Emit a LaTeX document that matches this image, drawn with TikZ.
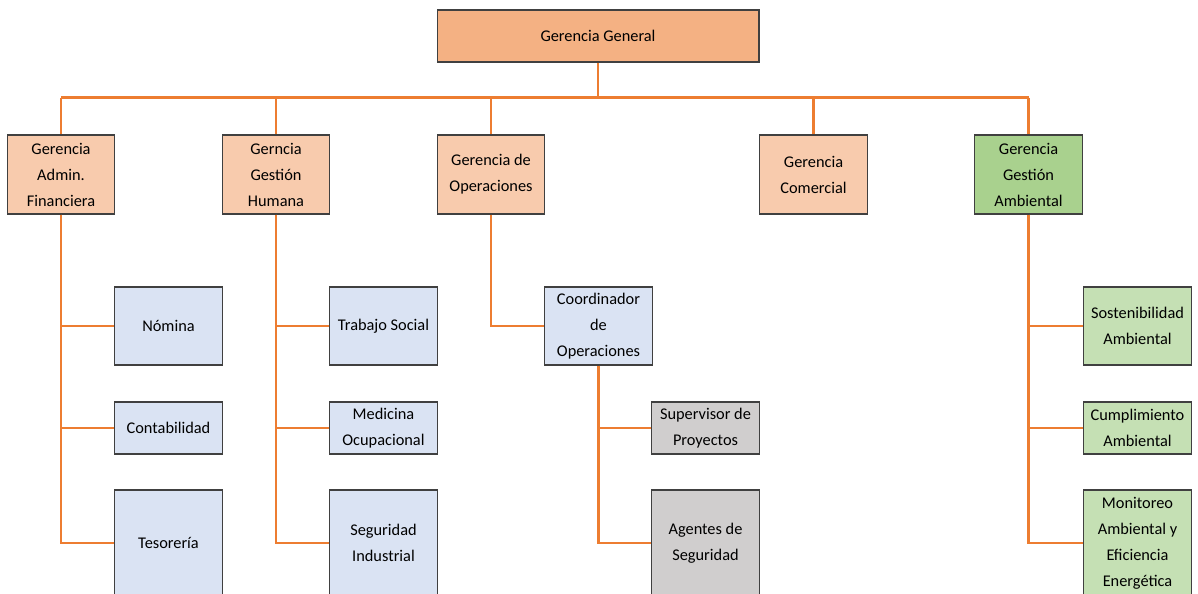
\documentclass[tikz,border=0pt]{standalone}
\usepackage{fontspec}
\setmainfont{Carlito}
\definecolor{naranjaps}{HTML}{ED7D31}
\definecolor{bordeps}{HTML}{404040}
\definecolor{generalps}{HTML}{F4B183}
\definecolor{salmonps}{HTML}{F8CBAD}
\definecolor{verdeps}{HTML}{A9D18E}
\definecolor{verdeclaps}{HTML}{C5E0B4}
\definecolor{azulps}{HTML}{DAE3F3}
\definecolor{grisps}{HTML}{D0CECE}

\begin{document}
\begin{tikzpicture}[x=0.02cm, y=-0.02cm, font=\fontsize{9.3}{14.8}\selectfont,
    caja/.style={draw=bordeps, line width=0.6pt, align=center, inner sep=0pt, minimum width=2.15cm},
    gerencia/.style={caja, fill=salmonps, minimum height=1.58cm},
    sub/.style={caja, fill=azulps},
    linea/.style={naranjaps, line width=1.2pt}]
    \useasboundingbox (0,0) rectangle (1198,594);

    \node[caja, fill=generalps, minimum width=6.44cm, minimum height=1.04cm] (gg) at (598,36) {Gerencia General};

    % gerencias
    \node[gerencia] (adm) at (61,174.5)   {Gerencia\\Admin.\\Financiera};
    \node[gerencia] (gh)  at (276,174.5)  {Gerncia\\Gestión\\Humana};
    \node[gerencia] (ope) at (491,174.5)  {Gerencia de\\Operaciones};
    \node[gerencia] (com) at (813.5,174.5) {Gerencia\\Comercial};
    \node[gerencia, fill=verdeps] (amb) at (1028.5,174.5) {Gerencia\\Gestión\\Ambiental};

    % areas
    \node[sub, minimum height=1.56cm] (nom) at (168.5,326) {Nómina};
    \node[sub, minimum height=1.04cm] (con) at (168.5,428) {Contabilidad};
    \node[sub, minimum height=2.12cm] (tes) at (168.5,543) {Tesorería};
    \node[sub, minimum height=1.56cm] (ts)  at (383.5,326) {Trabajo Social};
    \node[sub, minimum height=1.04cm] (med) at (383.5,428) {Medicina\\Ocupacional};
    \node[sub, minimum height=2.12cm] (seg) at (383.5,543) {Seguridad\\Industrial};
    \node[sub, minimum height=1.56cm] (coord) at (598.5,326) {Coordinador\\de\\Operaciones};
    \node[sub, fill=grisps, minimum height=1.04cm] (sup) at (705.5,428) {Supervisor de\\Proyectos};
    \node[sub, fill=grisps, minimum height=2.12cm] (age) at (705.5,543) {Agentes de\\Seguridad};
    \node[sub, fill=verdeclaps, minimum height=1.56cm] (sos) at (1137.5,326) {Sostenibilidad\\Ambiental};
    \node[sub, fill=verdeclaps, minimum height=1.04cm] (cum) at (1137.5,428) {Cumplimiento\\Ambiental};
    \node[sub, fill=verdeclaps, minimum height=2.12cm] (mon) at (1137.5,543) {Monitoreo\\Ambiental y\\Eficiencia\\Energética};

    % lineas
    \draw[linea] (gg.south) -- ++(0,35) coordinate (bus);
    \draw[linea] (bus -| adm.north) -- (bus -| amb.north);
    \foreach \g in {adm,gh,ope,com,amb}
        \draw[linea] (bus -| \g.north) -- (\g.north);
    \foreach \h in {nom,con,tes}
        \draw[linea] (adm.south) |- (\h.west);
    \foreach \h in {ts,med,seg}
        \draw[linea] (gh.south) |- (\h.west);
    \draw[linea] (ope.south) |- (coord.west);
    \foreach \h in {sup,age}
        \draw[linea] (coord.south) |- (\h.west);
    \foreach \h in {sos,cum,mon}
        \draw[linea] (amb.south) |- (\h.west);
\end{tikzpicture}
\end{document}
